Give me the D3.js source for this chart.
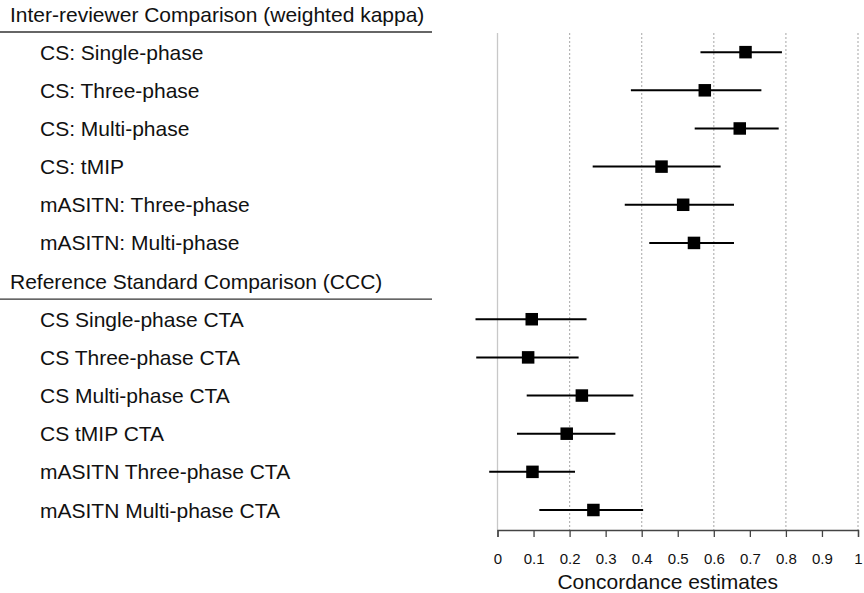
<!DOCTYPE html>
<html>
<head>
<meta charset="utf-8">
<script src="https://cdn.jsdelivr.net/npm/d3@7"></script>
<style>
  body { margin: 0; background: #fff; }
  text { font-family: "Liberation Sans", Arial, sans-serif; fill: #111; }
</style>
</head>
<body>
<svg id="chart" width="864" height="593"></svg>
<script>
// rows top to bottom; headers have no estimate
const groupTitles = ["Inter-reviewer Comparison (weighted kappa)", "Reference Standard Comparison (CCC)"];
const labels1 = ["CS: Single-phase", "CS: Three-phase", "CS: Multi-phase", "CS: tMIP",
                 "mASITN: Three-phase", "mASITN: Multi-phase"];
const est1 = [0.688, 0.575, 0.672, 0.455, 0.515, 0.545];
const lo1  = [0.563, 0.370, 0.547, 0.264, 0.353, 0.421];
const hi1  = [0.789, 0.732, 0.780, 0.619, 0.656, 0.656];

const labels2 = ["CS Single-phase CTA", "CS Three-phase CTA", "CS Multi-phase CTA", "CS tMIP CTA",
                 "mASITN Three-phase CTA", "mASITN Multi-phase CTA"];
const est2 = [0.095, 0.085, 0.234, 0.192, 0.097, 0.266];
const lo2  = [-0.061, -0.059, 0.081, 0.054, -0.023, 0.116];
const hi2  = [0.247, 0.225, 0.377, 0.327, 0.215, 0.404];

const tickVals = [0, 0.1, 0.2, 0.3, 0.4, 0.5, 0.6, 0.7, 0.8, 0.9, 1];
const gridVals = [0.2, 0.4, 0.6, 0.8, 1];

// build rows
const rows = [];
rows.push({header: true, label: groupTitles[0]});
labels1.forEach((l, i) => rows.push({label: l, est: est1[i], lo: lo1[i], hi: hi1[i]}));
rows.push({header: true, label: groupTitles[1]});
labels2.forEach((l, i) => rows.push({label: l, est: est2[i], lo: lo2[i], hi: hi2[i]}));
rows.forEach((r, i) => r.index = i);

const svg = d3.select("#chart");

const x = d3.scaleLinear().domain([0, 1]).range([497.5, 858]);
const y = d3.scalePoint().domain(d3.range(rows.length)).range([14, 510]);

const plotTop = 33, plotBottom = 530;

// grid
svg.append("line")
  .attr("x1", x(0)).attr("x2", x(0))
  .attr("y1", plotTop).attr("y2", plotBottom)
  .attr("stroke", "#c8c8c8").attr("stroke-width", 1.3);

svg.append("g").selectAll("line")
  .data(gridVals)
  .enter().append("line")
  .attr("x1", d => x(d)).attr("x2", d => x(d))
  .attr("y1", plotTop).attr("y2", plotBottom)
  .attr("stroke", "#b5b5b5").attr("stroke-width", 1.2)
  .attr("stroke-dasharray", "2,2");

// labels
svg.append("g").selectAll("text")
  .data(rows)
  .enter().append("text")
  .attr("x", d => d.header ? 10 : 40)
  .attr("y", d => y(d.index))
  .attr("dy", "0.36em")
  .attr("font-size", 21)
  .text(d => d.label);

// header underlines
svg.append("g").selectAll("line")
  .data(rows.filter(d => d.header))
  .enter().append("line")
  .attr("x1", 0).attr("x2", 432)
  .attr("y1", d => y(d.index) + 18).attr("y2", d => y(d.index) + 18)
  .attr("stroke", "#333").attr("stroke-width", 1.3);

// CIs and estimates
const data = rows.filter(d => !d.header);

svg.append("g").selectAll("line")
  .data(data)
  .enter().append("line")
  .attr("x1", d => x(d.lo)).attr("x2", d => x(d.hi))
  .attr("y1", d => y(d.index)).attr("y2", d => y(d.index))
  .attr("stroke", "#000").attr("stroke-width", 2);

const sq = 12.5;
svg.append("g").selectAll("rect")
  .data(data)
  .enter().append("rect")
  .attr("x", d => x(d.est) - sq / 2)
  .attr("y", d => y(d.index) - sq / 2)
  .attr("width", sq).attr("height", sq)
  .attr("fill", "#000");

// x axis
const axis = svg.append("g")
  .attr("transform", "translate(0," + plotBottom + ")")
  .call(d3.axisBottom(x).tickValues(tickVals).tickSize(7).tickPadding(16)
        .tickFormat(d => d3.format("")(d)));
axis.select(".domain").attr("stroke", "#444").attr("stroke-width", 1.3);
axis.selectAll(".tick line").attr("stroke", "#444").attr("stroke-width", 1.3);
axis.selectAll(".tick text")
  .attr("font-family", "Liberation Sans, Arial, sans-serif")
  .attr("font-size", 15).attr("fill", "#111");

svg.append("text")
  .attr("x", x(0.5) - 10).attr("y", 589)
  .attr("text-anchor", "middle")
  .attr("font-size", 21)
  .text("Concordance estimates");
</script>
</body>
</html>
